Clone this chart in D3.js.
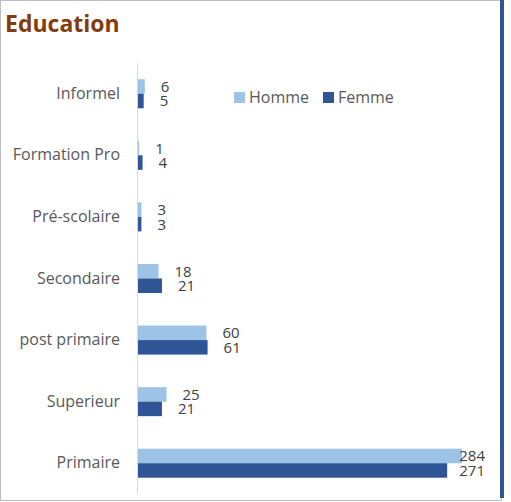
<!DOCTYPE html>
<html>
<head>
<meta charset="utf-8">
<script src="https://cdn.jsdelivr.net/npm/d3@7"></script>
<style>
  body { margin: 0; background: #fff; }
  svg { display: block; font-family: "Open Sans", "Liberation Sans", sans-serif; }
</style>
</head>
<body>
<div id="chart"></div>
<script>
// Chart data
var categories = ["Informel", "Formation Pro", "Pré-scolaire", "Secondaire", "post primaire", "Superieur", "Primaire"];
var homme = [6, 1, 3, 18, 60, 25, 284];
var femme = [5, 4, 3, 21, 61, 21, 271];
var seriesNames = ["Homme", "Femme"];
var seriesColors = ["#9DC3E6", "#2F5597"];

var width = 511, height = 502;

var svg = d3.select("#chart").append("svg")
  .attr("width", width)
  .attr("height", height);

// Frame: grey border with a blue right edge
svg.append("rect")
  .attr("x", 0.5).attr("y", 0.5)
  .attr("width", 501).attr("height", 500)
  .attr("fill", "none")
  .attr("stroke", "#BFBFBF");
svg.append("line")
  .attr("x1", 502).attr("x2", 502)
  .attr("y1", 0).attr("y2", 498)
  .attr("stroke", "#2F5597")
  .attr("stroke-width", 4);

// Title
svg.append("text")
  .attr("x", 5).attr("y", 32)
  .attr("fill", "#843C0C")
  .style("font-size", "23px")
  .style("font-weight", "bold")
  .text("Education");

// Scales
var plotLeft = 138, plotTop = 63, plotBottom = 494;
var x = d3.scaleLinear().domain([0, 284]).range([plotLeft, 462]);
var y = d3.scaleBand().domain(categories).range([plotTop, plotBottom]).paddingInner(0).paddingOuter(0);
var sub = d3.scaleBand().domain(seriesNames).range([0, 29]);

// Axis line
svg.append("line")
  .attr("x1", plotLeft - 0.5).attr("x2", plotLeft - 0.5)
  .attr("y1", plotTop).attr("y2", plotBottom)
  .attr("stroke", "#D9D9D9")
  .attr("stroke-width", 1);

// Category labels
var yAxis = d3.axisLeft(y).tickSize(0).tickPadding(0);
var gy = svg.append("g")
  .attr("transform", "translate(" + (plotLeft - 18) + ",0)")
  .call(yAxis);
gy.select(".domain").remove();
gy.selectAll("text")
  .attr("fill", "#595959")
  .style("font-size", "16px")
  .style("font-family", "'Open Sans', 'Liberation Sans', sans-serif");

// Bars
var rows = categories.map(function(c, i) {
  return { cat: c, values: [{ s: "Homme", v: homme[i] }, { s: "Femme", v: femme[i] }] };
});

var groups = svg.selectAll(".grp")
  .data(rows)
  .enter().append("g")
  .attr("class", "grp")
  .attr("transform", function(d) { return "translate(0," + (y(d.cat) + y.bandwidth() / 2 - 14.5) + ")"; });

groups.selectAll("rect")
  .data(function(d) { return d.values; })
  .enter().append("rect")
  .attr("x", plotLeft)
  .attr("y", function(d) { return sub(d.s); })
  .attr("height", sub.bandwidth())
  .attr("width", function(d) { return Math.max(x(d.v) - plotLeft, 0); })
  .attr("fill", function(d, i) { return seriesColors[i]; });

// Value labels, kept inside the plot area
var labelRight = 485;
groups.selectAll(".val")
  .data(function(d) { return d.values; })
  .enter().append("text")
  .attr("class", "val")
  .attr("fill", "#404040")
  .style("font-size", "15px")
  .attr("dy", "0.36em")
  .attr("y", function(d) { return sub(d.s) + sub.bandwidth() / 2; })
  .text(function(d) { return d.v; })
  .attr("x", function(d) {
    var w = this.getComputedTextLength();
    return Math.min(x(d.v) + 16, labelRight - w);
  });

// Legend
var legend = svg.append("g").attr("transform", "translate(234,97)");
var legendX = [0, 89];
seriesNames.forEach(function(name, i) {
  var g = legend.append("g").attr("transform", "translate(" + legendX[i] + ",0)");
  g.append("rect")
    .attr("x", 0).attr("y", -5)
    .attr("width", 11).attr("height", 11)
    .attr("fill", seriesColors[i]);
  g.append("text")
    .attr("x", 15).attr("dy", "0.36em")
    .attr("fill", "#595959")
    .style("font-size", "16px")
    .text(name);
});
</script>
</body>
</html>
